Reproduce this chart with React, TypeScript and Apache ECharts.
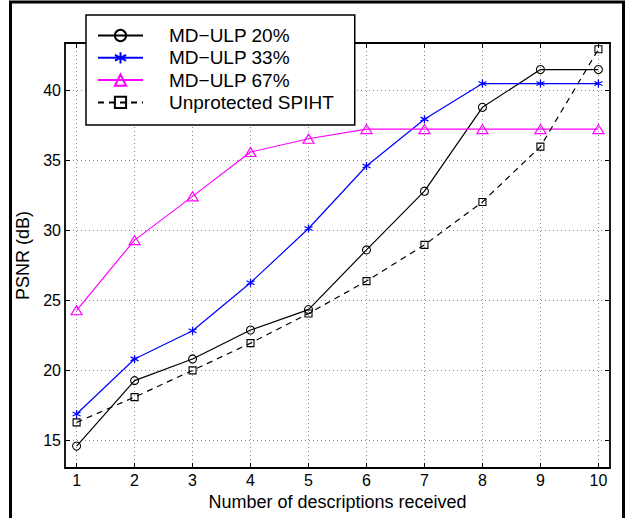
import React, { useEffect, useRef } from "react";
import * as echarts from "echarts";

const descriptions = [1, 2, 3, 4, 5, 6, 7, 8, 9, 10];
const xTicks = [1, 2, 3, 4, 5, 6, 7, 8, 9, 10];
const yTicks = [15, 20, 25, 30, 35, 40];

const mdulp20 = [14.57, 19.25, 20.8, 22.87, 24.33, 28.6, 32.8, 38.8, 41.5, 41.5];
const mdulp33 = [16.86, 20.8, 22.82, 26.25, 30.13, 34.6, 37.95, 40.5, 40.5, 40.5];
const mdulp67 = [24.28, 29.3, 32.43, 35.6, 36.55, 37.24, 37.24, 37.24, 37.24, 37.24];
const spiht = [16.26, 18.07, 19.98, 21.93, 24.05, 26.37, 28.96, 32.03, 35.99, 42.95];

const seriesNames = ["MD\u2212ULP 20%", "MD\u2212ULP 33%", "MD\u2212ULP 67%", "Unprotected SPIHT"];

const FONT = "'Liberation Sans', Arial, Helvetica, sans-serif";

const star = "path://M5 0 L5 10 M0.67 2.5 L9.33 7.5 M0.67 7.5 L9.33 2.5";

function pairs(vals: number[]) {
  return descriptions.map((d, i) => [d, vals[i]]);
}

export default function App() {
  const ref = useRef<HTMLDivElement>(null);
  useEffect(() => {
    if (!ref.current) return;
    const chart = echarts.init(ref.current, undefined, { renderer: "svg" });
    const tickCommon = {
      show: true,
      inside: true,
      length: 5,
      lineStyle: { color: "#000", width: 1 },
    };
    const axisLine = { show: true, onZero: false, lineStyle: { color: "#000", width: 1.8 } };
    const gridLine = { show: true, lineStyle: { color: "#888", width: 1, type: [1, 3] as any } };
    const option: any = {
      animation: false,
      backgroundColor: "#fff",
      textStyle: { fontFamily: FONT },
      grid: { left: 65, top: 43, right: 18, bottom: 50, containLabel: false },
      xAxis: [
        {
          type: "value",
          min: 0.8,
          max: 10.2,
          position: "bottom",
          axisLine,
          axisTick: { ...tickCommon, customValues: xTicks },
          axisLabel: { customValues: xTicks, color: "#000", fontSize: 16, fontFamily: FONT, margin: 4 },
          splitLine: gridLine,
          name: "Number of descriptions received",
          nameLocation: "middle",
          nameGap: 21,
          nameTextStyle: { color: "#000", fontSize: 18, fontFamily: FONT },
        },
        {
          type: "value",
          min: 0.8,
          max: 10.2,
          position: "top",
          axisLine,
          axisTick: { ...tickCommon, customValues: xTicks },
          axisLabel: { show: false },
          splitLine: { show: false },
        },
      ],
      yAxis: [
        {
          type: "value",
          min: 13,
          max: 43.4,
          position: "left",
          axisLine,
          axisTick: { ...tickCommon, customValues: yTicks },
          axisLabel: { customValues: yTicks, color: "#000", fontSize: 16, fontFamily: FONT, margin: 4 },
          splitLine: gridLine,
          name: "PSNR (dB)",
          nameLocation: "middle",
          nameGap: 19,
          nameTextStyle: { color: "#000", fontSize: 18, fontFamily: FONT },
        },
        {
          type: "value",
          min: 13,
          max: 43.4,
          position: "right",
          axisLine,
          axisTick: { ...tickCommon, customValues: yTicks },
          axisLabel: { show: false },
          splitLine: { show: false },
        },
      ],
      legend: {
        orient: "vertical",
        left: 86,
        top: 15,
        width: 268,
        padding: [11, 21, 13, 11],
        itemWidth: 45,
        itemHeight: 14,
        itemGap: 3.3,
        borderColor: "#000",
        borderWidth: 1.5,
        backgroundColor: "#fff",
        textStyle: { color: "#000", fontSize: 19, fontFamily: FONT, padding: [0, 0, 0, 21] },
        data: seriesNames,
      },
      series: [
        {
          name: seriesNames[0],
          type: "line",
          data: pairs(mdulp20),
          symbol: "circle",
          symbolSize: 8,
          lineStyle: { color: "#000", width: 1.2 },
          itemStyle: { color: "rgba(0,0,0,0)", borderColor: "#000", borderWidth: 1.1 },
          z: 3,
        },
        {
          name: seriesNames[1],
          type: "line",
          data: pairs(mdulp33),
          symbol: star,
          symbolSize: 8,
          lineStyle: { color: "#0000ff", width: 1.2 },
          itemStyle: { color: "#0000ff", borderColor: "#0000ff", borderWidth: 1.3 },
          z: 3,
        },
        {
          name: seriesNames[2],
          type: "line",
          data: pairs(mdulp67),
          symbol: "triangle",
          symbolSize: [11, 9],
          lineStyle: { color: "#ff00ff", width: 1.2 },
          itemStyle: { color: "rgba(0,0,0,0)", borderColor: "#ff00ff", borderWidth: 1.2 },
          z: 3,
        },
        {
          name: seriesNames[3],
          type: "line",
          data: pairs(spiht),
          symbol: "rect",
          symbolSize: 7,
          lineStyle: { color: "#000", width: 1.2, type: [6, 5] },
          itemStyle: { color: "rgba(0,0,0,0)", borderColor: "#000", borderWidth: 1.1 },
          z: 3,
        },
      ],
      graphic: [
        {
          type: "rect",
          shape: { x: 10.5, y: 2, width: 613, height: 560 },
          style: { fill: "none", stroke: "#000", lineWidth: 3 },
          silent: true,
          z: 100,
        },
      ],
    };
    chart.setOption(option);
    return () => chart.dispose();
  }, []);
  return (
    <div
      ref={ref}
      style={{ position: "absolute", left: 0, top: 0, width: 628, height: 518 }}
    />
  );
}
